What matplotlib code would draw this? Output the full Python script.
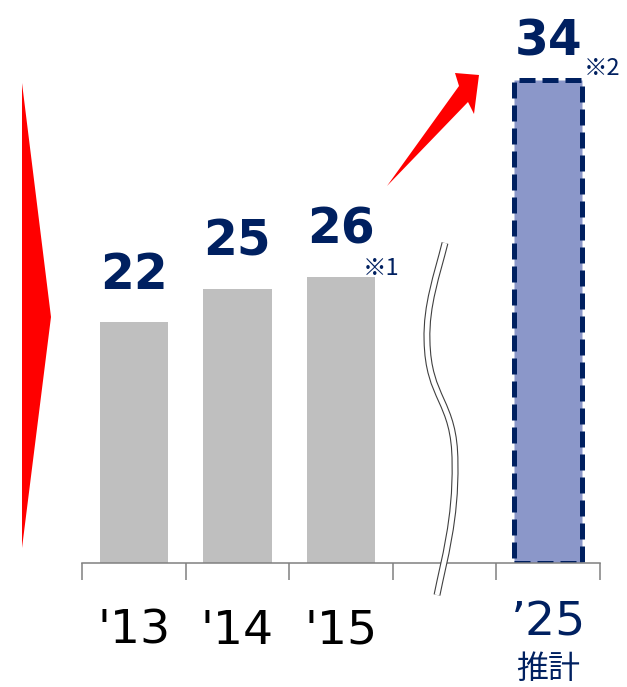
"""Bar chart with broken axis: '13-'15 actuals and '25 estimate."""
import matplotlib
matplotlib.use("Agg")
import matplotlib.pyplot as plt
import numpy as np
from matplotlib.patches import Polygon, PathPatch
from matplotlib.path import Path

plt.rcParams["font.family"] = ["DejaVu Sans", "Noto Sans CJK JP"]

# --- data -------------------------------------------------------------
years = ["'13", "'14", "'15", "\u201925"]
values = [22, 25, 26, 34]              # printed values
heights = [22, 25, 26.1, 44.1]         # drawn bar heights (last bar is not to scale)
notes = ["", "", "\u203b1", "\u203b2"]
estimate_label = "推計"

NAVY = "#002060"
GRAY = "#BFBFBF"
EST_FILL = "#8B97C9"

W, H = 627, 687
fig = plt.figure(figsize=(W / 100, H / 100), dpi=100)

# main axes: baseline at 563 px from top, x from 82 to 600 px
ax = fig.add_axes([82 / W, (H - 563) / H, 518 / W, 563 / H])
x = np.arange(len(years), dtype=float)
x[-1] += 1  # skipped slot behind the axis break
ax.set_xlim(-0.5, 4.5)
ax.set_ylim(0, 563 / 10.95)

colors = [GRAY] * (len(years) - 1) + [EST_FILL]
bars = ax.bar(x, heights, width=0.66, color=colors, zorder=2)
est = bars[-1]
est.set_edgecolor(NAVY)
est.set_linewidth(3.6)
est.set_linestyle((0, (3.2, 1.4)))

last = len(years) - 1
for i, (xi, h, v, note) in enumerate(zip(x, heights, values, notes)):
    off = 18 if i == last else 24
    ax.annotate(str(v), (xi, h), xytext=(0, off), textcoords="offset points",
                ha="center", va="baseline", fontsize=35, fontweight="bold",
                color=NAVY)
    if note:
        ax.annotate(note, (xi + 0.33, h),
                    xytext=(-9, 6.5) if i < last else (1, 8),
                    textcoords="offset points", ha="left", va="center",
                    fontsize=17, color=NAVY,
                    family=["Noto Sans CJK JP", "DejaVu Sans"])

# year labels
for i, (xi, lab) in enumerate(zip(x, years)):
    est_bar = i == last
    ax.annotate(lab, (xi, 0), xytext=(0, -43 if est_bar else -49),
                textcoords="offset points", ha="center", va="center",
                fontsize=34, color=NAVY if est_bar else "black",
                annotation_clip=False)
ax.annotate(estimate_label, (x[-1], 0), xytext=(0, -76), textcoords="offset points",
            ha="center", va="center", fontsize=23, color=NAVY,
            family=["Noto Sans CJK JP"], annotation_clip=False)

for s in ["top", "left", "right"]:
    ax.spines[s].set_visible(False)
ax.spines["bottom"].set_color("#808080")
ax.spines["bottom"].set_linewidth(1.1)
ax.set_yticks([])
ax.set_xticks(np.arange(-0.5, 5, 1.0))
ax.set_xticklabels([])
ax.tick_params(axis="x", direction="out", length=12, width=1.1, color="#808080")
ax.patch.set_visible(False)

# --- decorations in pixel coordinates ----------------------------------
ov = fig.add_axes([0, 0, 1, 1], zorder=5)
ov.set_xlim(0, W)
ov.set_ylim(H, 0)
ov.axis("off")
ov.patch.set_visible(False)

# red wedge on the left
ov.add_patch(Polygon([(22, 83), (51, 317), (22, 548)], closed=True,
                     facecolor="#FF0000", edgecolor="none"))

# red tapered arrow pointing to the estimate
ov.add_patch(Polygon([(387, 186), (459, 86), (455, 73), (479, 75),
                      (474, 114), (468, 102)], closed=True,
                     facecolor="#FF0000", edgecolor="none"))

# axis break (double wavy line)
verts = [(445, 243), (437, 275), (426, 305), (427, 340),
         (428, 400), (455, 400), (455, 463),
         (456, 520), (444, 560), (437, 595)]
codes = [Path.MOVETO] + [Path.CURVE4] * 9
brk = Path(verts, codes)
ov.add_patch(PathPatch(brk, facecolor="none", edgecolor="#404040", lw=5.0,
                       capstyle="butt"))
ov.add_patch(PathPatch(brk, facecolor="none", edgecolor="white", lw=3.4,
                       capstyle="butt"))

fig.savefig("out.png", dpi=100)
